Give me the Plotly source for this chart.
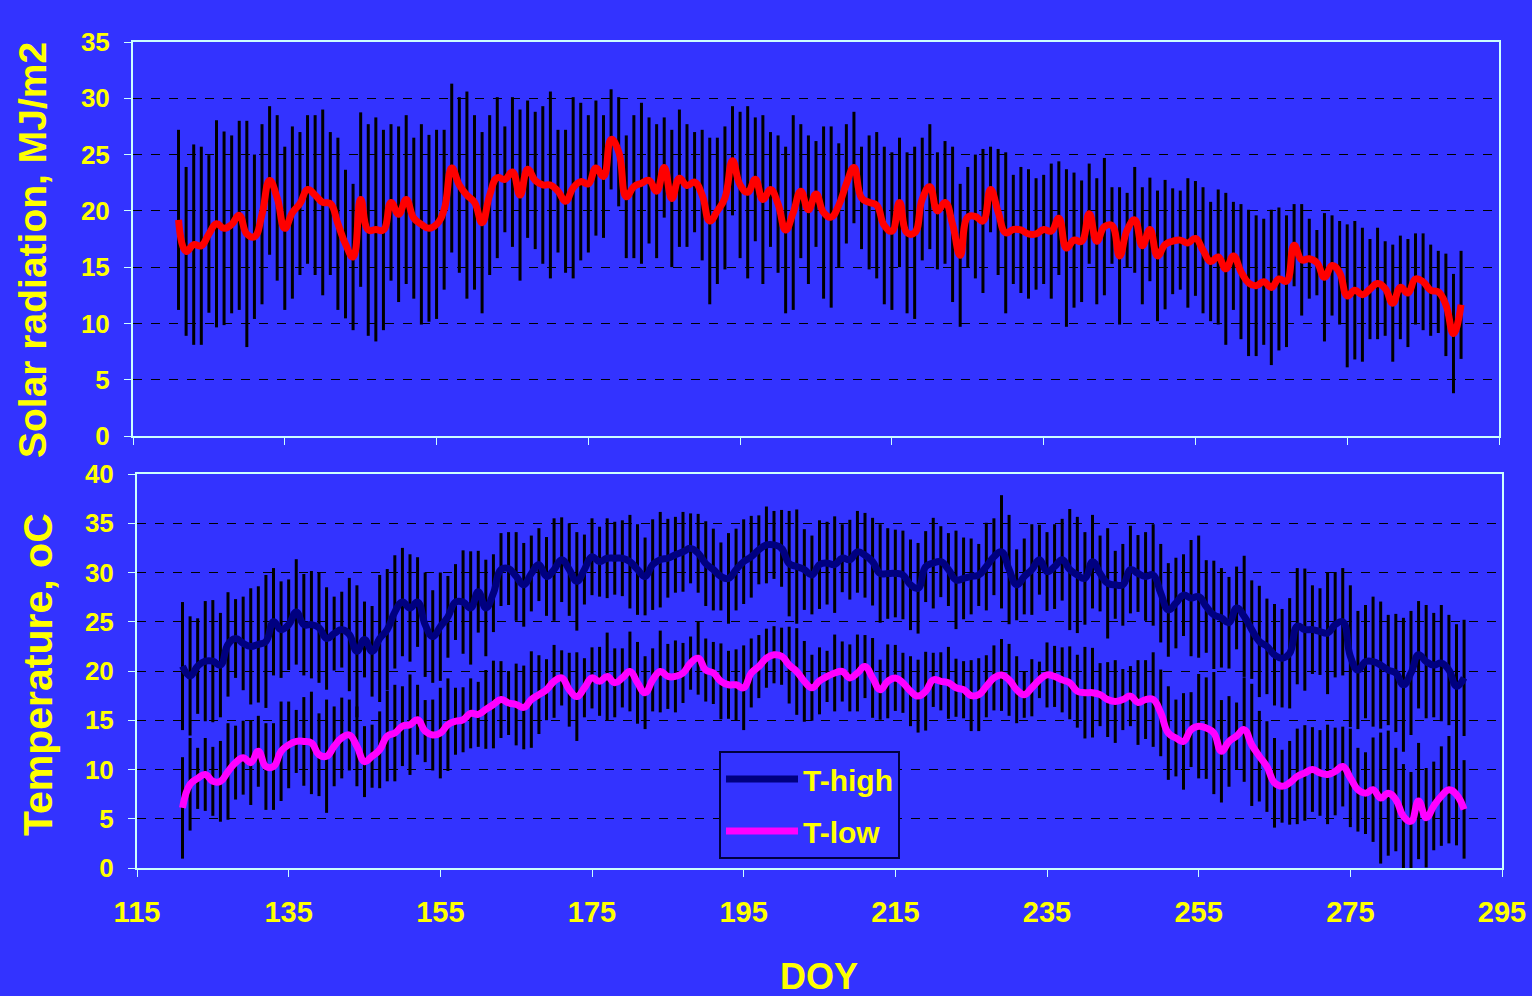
import plotly.graph_objects as go

# Day of year (one value per day)
doy = list(range(121, 291))

# Solar radiation: daily mean and +/- spread (MJ/m2)
rad_mean = [
    19.2, 16.4, 17.0, 16.9, 17.95, 18.85, 18.45, 18.8, 19.6, 17.95,
    17.7, 19.7, 22.7, 21.15, 18.45, 19.85, 20.65, 21.9, 21.4, 20.75,
    20.65, 18.85, 17.05, 15.9, 21.0, 18.3, 18.35, 18.3, 20.75, 19.7,
    21.0, 19.35, 18.8, 18.45, 18.8, 20.1, 23.8, 22.3, 21.4, 20.75,
    18.95, 21.4, 22.95, 22.8, 23.45, 21.4, 23.7, 22.7, 22.3, 22.3,
    21.75, 20.85, 22.05, 22.6, 22.4, 23.8, 23.05, 26.35, 25.25, 21.25,
    22.15, 22.45, 22.7, 21.75, 23.85, 21.1, 22.9, 22.25, 22.55, 21.4,
    19.1, 20.0, 21.15, 24.45, 22.3, 21.65, 22.8, 21.0, 21.9, 20.6,
    18.3, 19.85, 21.75, 20.1, 21.5, 19.85, 19.45, 20.5, 22.4, 23.85,
    21.15, 20.75, 20.5, 18.7, 18.2, 20.75, 18.05, 18.05, 21.05, 22.15,
    20.0, 20.75, 18.8, 16.05, 19.45, 19.5, 19.1, 21.9, 19.9, 18.05,
    18.35, 18.3, 17.95, 17.95, 18.35, 18.2, 19.35, 16.7, 17.4, 17.3,
    19.75, 17.3, 18.6, 18.7, 16.0, 18.3, 19.2, 16.9, 18.35, 16.0,
    17.0, 17.3, 17.4, 17.15, 17.55, 16.5, 15.5, 15.9, 14.85, 16.0,
    14.6, 13.6, 13.35, 13.7, 13.2, 13.95, 13.75, 16.95, 15.65, 15.75,
    15.4, 14.1, 15.15, 14.5, 12.45, 12.95, 12.55, 13.05, 13.55, 13.1,
    11.8, 13.2, 12.7, 13.95, 13.7, 12.95, 12.8, 11.65, 9.1, 11.65,
]
rad_sd = [
    8.0, 7.5, 8.9, 8.8, 7.0, 9.2, 8.6, 7.9, 8.4, 10.05,
    7.3, 8.0, 6.6, 7.35, 7.25, 7.65, 6.35, 6.6, 7.1, 8.25,
    6.35, 7.65, 6.6, 6.5, 7.75, 9.4, 9.95, 8.9, 6.95, 7.8,
    7.5, 7.15, 8.9, 8.3, 8.4, 7.1, 7.5, 7.8, 9.2, 7.75,
    8.05, 7.1, 7.15, 4.7, 6.65, 7.6, 6.1, 6.1, 7.0, 8.3,
    5.45, 6.35, 8.05, 7.0, 6.1, 6.0, 5.45, 4.45, 4.85, 5.45,
    6.35, 7.15, 5.6, 5.95, 4.45, 6.1, 6.1, 5.45, 4.45, 5.8,
    7.4, 6.5, 6.35, 4.85, 6.5, 7.65, 5.5, 7.5, 5.1, 6.1,
    7.4, 8.65, 5.95, 6.6, 4.7, 7.65, 8.05, 5.5, 5.3, 4.95,
    4.55, 5.95, 6.5, 7.0, 7.0, 5.75, 7.15, 7.65, 5.45, 5.55,
    5.2, 5.45, 6.9, 6.35, 4.45, 5.5, 6.4, 3.8, 5.6, 7.15,
    4.85, 5.6, 5.75, 4.95, 4.85, 6.0, 5.05, 7.0, 6.0, 5.4,
    4.45, 5.6, 6.1, 3.4, 6.1, 3.3, 4.7, 5.2, 4.6, 5.8,
    5.75, 4.7, 4.4, 5.75, 5.1, 5.6, 5.3, 6.0, 6.75, 4.8,
    6.0, 6.5, 6.25, 5.6, 6.9, 6.35, 5.85, 3.65, 4.95, 3.55,
    2.9, 5.7, 4.45, 4.6, 6.35, 6.15, 5.95, 4.45, 4.95, 4.2,
    5.2, 4.6, 4.8, 4.05, 4.3, 4.05, 3.65, 4.55, 5.3, 4.8,
]

# Daily high temperature: mean and +/- spread (oC)
thigh_mean = [
    20.5, 19.5, 20.5, 21.0, 21.0, 20.6, 22.7, 23.3, 22.8, 22.5,
    22.7, 23.0, 25.0, 24.2, 24.7, 26.0, 24.7, 24.7, 24.4, 23.3,
    23.8, 24.2, 23.7, 22.0, 23.2, 22.0, 23.3, 24.2, 26.0, 27.0,
    26.4, 27.0, 24.7, 23.5, 24.5, 25.5, 27.0, 27.0, 26.4, 28.05,
    26.4, 27.9, 30.3, 30.4, 29.6, 28.75, 29.9, 30.8, 29.6, 30.3,
    31.3, 30.3, 29.1, 30.3, 31.6, 31.1, 31.45, 31.45, 31.45, 31.1,
    30.3, 29.6, 30.8, 31.3, 31.45, 31.8, 32.1, 32.45, 31.95, 30.9,
    30.3, 29.6, 29.4, 30.3, 31.1, 31.6, 32.3, 32.8, 32.8, 32.45,
    30.9, 30.6, 30.3, 29.75, 30.8, 30.95, 30.8, 31.45, 31.3, 32.1,
    31.75, 31.1, 29.9, 29.9, 29.9, 29.75, 28.75, 28.4, 30.6, 30.95,
    31.1, 30.3, 29.25, 29.4, 29.6, 29.75, 30.6, 31.6, 32.1, 30.3,
    28.75, 29.6, 30.3, 31.3, 30.1, 30.6, 31.3, 30.3, 29.75, 29.4,
    31.1, 29.9, 28.9, 28.75, 28.75, 30.3, 29.9, 29.6, 29.75, 27.9,
    26.2, 26.9, 27.7, 27.4, 27.55, 26.55, 25.7, 25.4, 24.9, 26.4,
    25.55, 24.2, 23.0, 22.5, 21.65, 21.3, 21.8, 24.55, 24.2, 24.2,
    24.0, 23.85, 24.7, 25.0, 21.5, 20.1, 20.95, 20.95, 20.6, 20.1,
    19.8, 18.6, 19.8, 21.65, 20.95, 20.6, 20.8, 20.1, 18.45, 19.3,
]
thigh_sd = [
    6.5, 6.05, 4.85, 6.1, 6.2, 5.3, 5.3, 4.0, 4.75, 5.9,
    5.9, 6.75, 5.45, 4.9, 4.6, 5.35, 5.15, 5.45, 5.6, 5.2,
    3.75, 3.85, 5.75, 6.7, 3.85, 4.6, 6.45, 6.15, 5.75, 5.5,
    5.45, 4.55, 5.3, 4.7, 5.5, 4.15, 3.85, 5.25, 5.75, 4.15,
    4.9, 3.95, 3.7, 3.7, 4.5, 4.25, 3.85, 3.7, 4.0, 5.2,
    4.3, 4.7, 5.0, 3.55, 3.9, 3.55, 4.05, 3.7, 3.85, 4.75,
    4.6, 3.95, 4.6, 4.85, 4.0, 3.85, 4.05, 3.55, 4.0, 4.3,
    4.15, 3.45, 4.6, 4.15, 4.3, 4.15, 3.5, 3.9, 3.45, 3.9,
    5.35, 5.8, 4.1, 4.0, 4.5, 4.2, 4.9, 3.45, 4.05, 4.15,
    4.3, 4.45, 5.0, 4.6, 4.45, 4.5, 4.6, 4.6, 3.6, 4.6,
    3.6, 3.7, 5.0, 4.15, 3.85, 3.15, 4.45, 3.9, 5.75, 5.55,
    3.6, 3.85, 4.6, 3.55, 4.0, 4.3, 4.15, 6.15, 5.9, 4.7,
    4.75, 3.85, 5.6, 3.45, 4.15, 4.45, 3.9, 4.5, 5.15, 5.0,
    4.75, 4.6, 4.15, 5.9, 6.2, 4.7, 5.5, 5.05, 4.65, 4.2,
    6.15, 5.0, 5.65, 4.85, 5.15, 5.0, 5.6, 5.9, 6.2, 4.5,
    4.4, 6.2, 5.35, 5.45, 7.2, 6.0, 5.75, 6.6, 6.45, 5.6,
    6.0, 6.8, 6.3, 5.45, 5.75, 5.3, 5.9, 5.6, 6.3, 5.9,
]

# Daily low temperature: mean and +/- spread (oC)
tlow_mean = [
    6.1, 8.5, 9.1, 9.5, 8.8, 8.8, 9.8, 10.7, 11.2, 10.7,
    11.85, 10.3, 10.3, 11.85, 12.5, 12.85, 12.85, 12.7, 11.5, 11.35,
    12.35, 13.2, 13.5, 12.35, 10.8, 11.35, 12.0, 13.4, 13.7, 14.4,
    14.55, 15.05, 13.9, 13.5, 13.7, 14.55, 14.9, 15.05, 15.7, 15.6,
    16.1, 16.6, 17.1, 16.75, 16.6, 16.3, 17.1, 17.6, 18.1, 18.95,
    19.3, 18.1, 17.4, 18.3, 19.3, 18.95, 19.45, 18.8, 19.3, 19.95,
    18.8, 17.8, 19.1, 19.95, 19.45, 19.45, 19.8, 20.8, 21.3, 20.1,
    19.8, 18.95, 18.6, 18.6, 18.3, 19.8, 20.45, 21.3, 21.65, 21.5,
    20.6, 19.95, 18.95, 18.3, 19.0, 19.45, 19.8, 19.95, 19.3, 19.8,
    20.45, 19.3, 18.1, 18.95, 19.3, 18.8, 17.95, 17.45, 17.95, 19.1,
    18.95, 18.8, 18.3, 18.1, 17.5, 17.6, 18.45, 19.3, 19.6, 19.1,
    18.1, 17.6, 18.3, 19.1, 19.6, 19.45, 19.1, 18.8, 17.95, 17.8,
    17.8, 17.6, 17.1, 16.9, 17.1, 17.45, 16.8, 17.1, 17.1, 15.75,
    13.7, 13.2, 12.85, 14.05, 14.4, 14.2, 13.7, 11.85, 12.85, 13.4,
    14.05, 12.5, 11.35, 10.3, 8.65, 8.3, 8.65, 9.3, 9.65, 10.0,
    9.65, 9.5, 9.8, 10.3, 9.15, 7.95, 7.6, 7.95, 7.1, 7.6,
    6.95, 5.25, 4.75, 6.8, 5.1, 6.3, 7.3, 7.95, 7.45, 5.95,
]
tlow_sd = [
    5.15, 4.7, 3.1, 3.7, 3.5, 4.1, 4.9, 3.75, 3.75, 4.3,
    3.6, 4.4, 4.4, 5.05, 4.4, 3.2, 4.5, 5.2, 4.2, 5.75,
    4.05, 4.1, 3.6, 4.05, 3.6, 3.2, 3.9, 4.6, 4.9, 4.05,
    5.1, 3.55, 3.15, 3.6, 4.6, 4.7, 3.4, 3.3, 3.55, 3.3,
    4.0, 4.45, 3.9, 3.25, 4.15, 4.25, 4.9, 4.0, 3.1, 3.7,
    2.8, 3.75, 4.5, 3.0, 3.1, 3.5, 4.45, 3.5, 3.0, 4.05,
    4.15, 3.7, 3.2, 4.15, 3.3, 3.65, 3.05, 2.7, 3.7, 3.2,
    3.15, 3.85, 3.45, 3.6, 4.3, 3.5, 3.2, 3.0, 2.9, 2.9,
    3.9, 4.4, 4.1, 3.35, 3.4, 2.6, 3.9, 3.05, 3.4, 3.9,
    3.2, 4.05, 3.05, 3.75, 3.35, 3.05, 3.55, 3.7, 4.0, 2.75,
    2.95, 3.65, 2.95, 2.9, 3.6, 3.7, 3.15, 3.3, 3.65, 3.65,
    3.4, 2.35, 2.9, 1.85, 3.3, 3.1, 3.3, 3.7, 3.7, 4.65,
    4.55, 3.2, 3.8, 4.2, 3.1, 3.05, 4.3, 4.0, 4.8, 4.4,
    4.75, 3.9, 4.9, 3.8, 5.3, 5.15, 6.2, 5.2, 4.6, 3.4,
    5.3, 6.2, 4.6, 4.6, 4.55, 3.7, 4.25, 4.85, 4.85, 4.3,
    4.35, 5.05, 4.45, 4.05, 5.0, 4.25, 4.15, 5.3, 6.65, 6.35,
    5.25, 5.3, 5.0, 5.9, 5.05, 4.5, 5.05, 5.45, 5.15, 5.0,
]

x_ticks = [115, 135, 155, 175, 195, 215, 235, 255, 275, 295]
rad_ticks = [0, 5, 10, 15, 20, 25, 30, 35]
temp_ticks = [0, 5, 10, 15, 20, 25, 30, 35, 40]

BG = "#3333FF"
YEL = "#FFFF00"
EDGE = "#CCFFFF"
FONT = "Arial, Liberation Sans, sans-serif"

fig = go.Figure()


def bars(x, y, sd, xa, ya):
    return go.Scatter(
        x=x, y=y, mode="markers", xaxis=xa, yaxis=ya,
        marker=dict(size=2, opacity=0, color="black"),
        error_y=dict(type="data", array=sd, visible=True, color="black",
                     thickness=3, width=0),
        showlegend=False, hoverinfo="skip",
    )


fig.add_trace(bars(doy, rad_mean, rad_sd, "x", "y"))
fig.add_trace(bars(doy, thigh_mean, thigh_sd, "x2", "y2"))
fig.add_trace(bars(doy, tlow_mean, tlow_sd, "x2", "y2"))

fig.add_trace(go.Scatter(
    x=doy, y=rad_mean, mode="lines", xaxis="x", yaxis="y",
    line=dict(color="#FF0000", width=7, shape="spline", smoothing=1.3),
    name="Solar radiation", showlegend=False,
))
fig.add_trace(go.Scatter(
    x=doy, y=thigh_mean, mode="lines", xaxis="x2", yaxis="y2",
    line=dict(color="#000080", width=7, shape="spline", smoothing=1.3),
    name="T-high", legendgroup="hi",
))
fig.add_trace(go.Scatter(
    x=doy, y=tlow_mean, mode="lines", xaxis="x2", yaxis="y2",
    line=dict(color="#FF00FF", width=7, shape="spline", smoothing=1.3),
    name="T-low", legendgroup="lo",
))

W, H = 1532, 996
axis_common = dict(
    showline=True, mirror=True, linecolor=EDGE, linewidth=2,
    ticks="outside", ticklen=7, tickcolor=EDGE, tickwidth=1,
    zeroline=False, automargin=False,
)
xcommon = dict(axis_common, range=[115, 295], tickvals=x_ticks, showgrid=False)
ycommon = dict(axis_common, showgrid=True, gridcolor="black", gridwidth=1,
               griddash="dash",
               tickfont=dict(family=FONT, size=26, color=YEL, weight="bold"),
               ticklabelstandoff=9)

fig.update_layout(
    width=W, height=H,
    margin=dict(l=0, r=0, t=0, b=0),
    paper_bgcolor=BG, plot_bgcolor=BG,
    xaxis=dict(xcommon, domain=[133 / W, 1499 / W], anchor="y",
               showticklabels=False),
    yaxis=dict(ycommon, domain=[1 - 436 / H, 1 - 42 / H], anchor="x",
               range=[0, 35], tickvals=rad_ticks),
    xaxis2=dict(xcommon, domain=[137 / W, 1502 / W], anchor="y2",
                tickfont=dict(family=FONT, size=29, color=YEL, weight="bold"),
                ticklabelstandoff=10),
    yaxis2=dict(ycommon, domain=[1 - 868 / H, 1 - 474 / H], anchor="x2",
                range=[0, 40], tickvals=temp_ticks),
    legend=dict(
        x=719 / W, y=1 - 751 / H, xanchor="left", yanchor="top",
        bgcolor=BG, bordercolor="#000040", borderwidth=2,
        font=dict(family=FONT, size=30, color=YEL, weight="bold"),
        tracegroupgap=10, itemwidth=72,
    ),
    annotations=[
        dict(text="Solar radiation, MJ/m2", x=32 / W, y=1 - 250 / H,
             xref="paper", yref="paper", showarrow=False, textangle=-90,
             xanchor="center", yanchor="middle",
             font=dict(family=FONT, size=39, color=YEL, weight="bold")),
        dict(text="Temperature, oC", x=38 / W, y=1 - 675 / H,
             xref="paper", yref="paper", showarrow=False, textangle=-90,
             xanchor="center", yanchor="middle",
             font=dict(family=FONT, size=41, color=YEL, weight="bold")),
        dict(text="DOY", x=819 / W, y=1 - 976 / H,
             xref="paper", yref="paper", showarrow=False,
             xanchor="center", yanchor="middle",
             font=dict(family=FONT, size=36, color=YEL, weight="bold")),
    ],
)

fig.write_html(
    "out.html",
    config={"displayModeBar": False},
    post_script="document.body.style.margin='0px';"
                "document.body.style.background='#3333FF';"
                "document.body.style.overflow='hidden';",
)
